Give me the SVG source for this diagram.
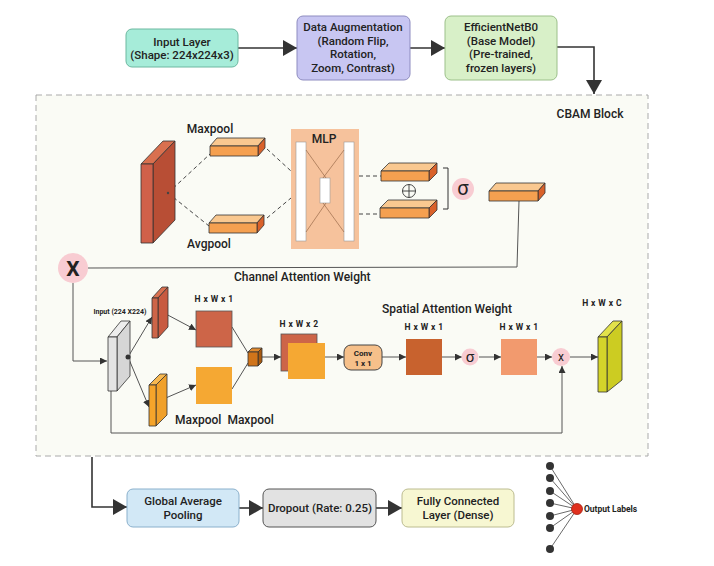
<svg xmlns="http://www.w3.org/2000/svg" width="714" height="566" viewBox="0 0 714 566">
<defs>
<style>
text{font-family:Roboto,"Liberation Sans",sans-serif;fill:#222;}
.t{font-size:11.5px;font-weight:500;text-anchor:middle;}
.lbl{font-size:12px;font-weight:500;}
.dim{font-size:8.5px;font-weight:700;text-anchor:middle;letter-spacing:0.4px;}
.con{fill:none;stroke:#333;stroke-width:1.6;}
.thin{fill:none;stroke:#555;stroke-width:1;}
.dash{fill:none;stroke:#444;stroke-width:1;stroke-dasharray:4,3;}
.edge{stroke:#333;stroke-width:0.8;stroke-linejoin:round;}
</style>
<marker id="big" markerUnits="userSpaceOnUse" markerWidth="14" markerHeight="16" refX="14" refY="8" orient="auto"><path d="M0,0 L14,8 L0,16 z" fill="#333"/></marker>
<marker id="sm" markerUnits="userSpaceOnUse" markerWidth="7" markerHeight="7" refX="7" refY="3.5" orient="auto"><path d="M0,0 L7,3.5 L0,7 z" fill="#333"/></marker>
</defs>
<rect width="714" height="566" fill="#ffffff"/>

<g id="cbam-block">
<rect x="36" y="95" width="612" height="361" fill="#fafbf5" stroke="#aaa" stroke-dasharray="6,4"/>
<text x="590" y="118" class="lbl" text-anchor="middle">CBAM Block</text>
</g>

<g id="connectors">
<path class="con" d="M238,48 H297" marker-end="url(#big)"/>
<path class="con" d="M410,48 H445" marker-end="url(#big)"/>
<path class="con" d="M557,47 H594 V94" marker-end="url(#big)"/>
<path class="con" d="M92,457 V507 H127" marker-end="url(#big)"/>
<path class="con" d="M239,508 H263" marker-end="url(#big)"/>
<path class="con" d="M376,508 H402" marker-end="url(#big)"/>
<path class="dash" d="M168,193 L210,154"/>
<path class="dash" d="M168,193 L209,226"/>
<path class="dash" d="M267,149 L291,171"/>
<path class="dash" d="M267,218 L291,198"/>
<path class="dash" d="M359,176 H381"/>
<path class="dash" d="M359,214 H380"/>
<path class="thin" d="M519,201 L517,267 L88,268"/>
<path class="thin" d="M73,283 V361 H107" marker-end="url(#sm)"/>
<path class="thin" d="M128,357 L152,317" marker-end="url(#sm)"/>
<path class="thin" d="M128,357 L149,407" marker-end="url(#sm)"/>
<path class="thin" d="M164,313 L196,330" marker-end="url(#sm)"/>
<path class="thin" d="M161,400 L196,385" marker-end="url(#sm)"/>
<path class="thin" d="M232,327 L248,353"/>
<path class="thin" d="M232,389 L248,363"/>
<path class="thin" d="M262,357 H281" marker-end="url(#sm)"/>
<path class="thin" d="M325,357 H344" marker-end="url(#sm)"/>
<path class="thin" d="M382,357 H406" marker-end="url(#sm)"/>
<path class="thin" d="M442,357 H462" marker-end="url(#sm)"/>
<path class="thin" d="M479,357 H501" marker-end="url(#sm)"/>
<path class="thin" d="M537,357 H552" marker-end="url(#sm)"/>
<path class="thin" d="M570,357 H598" marker-end="url(#sm)"/>
<path class="thin" d="M111,391 V433 H562 V366" marker-end="url(#sm)"/>
<g stroke="#444" stroke-width="0.8">
<line x1="550" y1="466" x2="577" y2="509"/><line x1="550" y1="478" x2="577" y2="509"/>
<line x1="550" y1="491" x2="577" y2="509"/><line x1="550" y1="503" x2="577" y2="509"/>
<line x1="550" y1="516" x2="577" y2="509"/><line x1="550" y1="528" x2="577" y2="509"/>
<line x1="550" y1="549" x2="577" y2="509"/>
</g>
</g>

<g id="input-layer">
<rect x="126" y="29" width="112" height="38" rx="6" fill="#a6ecd9" stroke="#6cb8a0"/>
<text class="t" x="182" y="46">Input Layer</text>
<text class="t" x="182" y="59">(Shape: 224x224x3)</text>
</g>
<g id="data-augmentation">
<rect x="297" y="16" width="113" height="64" rx="6" fill="#c8c6f2" stroke="#8e8cc0"/>
<text class="t" x="353" y="31">Data Augmentation</text>
<text class="t" x="353" y="45">(Random Flip,</text>
<text class="t" x="353" y="58">Rotation,</text>
<text class="t" x="353" y="72">Zoom, Contrast)</text>
</g>
<g id="efficientnet">
<rect x="445" y="16" width="112" height="64" rx="6" fill="#d8f0c8" stroke="#9cc08a"/>
<text class="t" x="501" y="31">EfficientNetB0</text>
<text class="t" x="501" y="45">(Base Model)</text>
<text class="t" x="501" y="58">(Pre-trained,</text>
<text class="t" x="501" y="72">frozen layers)</text>
</g>

<g id="feature-map">
<polygon class="edge" points="141,164 153,164 175,141 163,141" fill="#d9704f"/>
<polygon class="edge" points="153,164 175,141 175,220 153,243" fill="#b84e35"/>
<rect class="edge" x="141" y="164" width="12" height="79" fill="#d0604a"/>
<circle cx="168" cy="193" r="1.2" fill="#444"/>
</g>
<g id="maxpool-bar">
<polygon class="edge" points="210,146 258,146 265,138 217,138" fill="#f9c890"/>
<polygon class="edge" points="258,146 265,138 265,148 258,156" fill="#d9612a"/>
<rect class="edge" x="210" y="146" width="48" height="10" fill="#f5a050"/>
<text class="lbl" x="210" y="133" text-anchor="middle">Maxpool</text>
</g>
<g id="avgpool-bar">
<polygon class="edge" points="209,223 257,223 264,215 216,215" fill="#f9c890"/>
<polygon class="edge" points="257,223 264,215 264,225 257,233" fill="#d9612a"/>
<rect class="edge" x="209" y="223" width="48" height="10" fill="#f5a050"/>
<text class="lbl" x="209" y="248" text-anchor="middle">Avgpool</text>
</g>
<g id="mlp">
<rect x="291" y="129" width="68" height="120" fill="#f6c29c"/>
<text class="lbl" x="324" y="143" text-anchor="middle">MLP</text>
<rect x="296" y="142" width="10" height="99" fill="#fff" stroke="#999" stroke-width="0.6"/>
<rect x="344" y="142" width="10" height="99" fill="#fff" stroke="#999" stroke-width="0.6"/>
<rect x="320" y="178" width="10" height="25" fill="#fff" stroke="#999" stroke-width="0.6"/>
<g stroke="#8a5a3a" stroke-width="0.6">
<line x1="306" y1="150" x2="326" y2="178"/><line x1="344" y1="150" x2="323" y2="178"/>
<line x1="306" y1="232" x2="326" y2="203"/><line x1="344" y1="232" x2="323" y2="203"/>
</g>
</g>
<g id="mlp-out-top">
<polygon class="edge" points="381,171 429,171 437,163 389,163" fill="#f9c890"/>
<polygon class="edge" points="429,171 437,163 437,173 429,181" fill="#d9612a"/>
<rect class="edge" x="381" y="171" width="48" height="10" fill="#f5a050"/>
</g>
<g id="mlp-out-bottom">
<polygon class="edge" points="380,208 429,208 437,200 388,200" fill="#f9c890"/>
<polygon class="edge" points="429,208 437,200 437,210 429,218" fill="#d9612a"/>
<rect class="edge" x="380" y="208" width="49" height="10" fill="#f5a050"/>
</g>
<g id="sum">
<circle cx="409" cy="191" r="6.5" fill="none" stroke="#333" stroke-width="0.9"/>
<line x1="402.5" y1="191" x2="415.5" y2="191" stroke="#333" stroke-width="0.9"/>
<line x1="409" y1="184.5" x2="409" y2="197.5" stroke="#333" stroke-width="0.9"/>
<path d="M443,168 H448 V209 H443" fill="none" stroke="#333" stroke-width="1"/>
</g>
<g id="sigmoid-channel">
<circle cx="463" cy="189" r="11" fill="#f8ccd2"/>
<text x="463" y="195" font-size="20" text-anchor="middle">σ</text>
</g>
<g id="channel-weight">
<polygon class="edge" points="489,191 538,191 545,183 496,183" fill="#f9c890"/>
<polygon class="edge" points="538,191 545,183 545,193 538,201" fill="#d9612a"/>
<rect class="edge" x="489" y="191" width="49" height="10" fill="#f5a050"/>
<text class="lbl" x="234" y="281">Channel Attention Weight</text>
</g>
<g id="multiply-channel">
<circle cx="73" cy="268" r="15" fill="#f8ccd2"/>
<text x="73" y="276" font-size="21" font-weight="700" text-anchor="middle" fill="#111">X</text>
</g>

<g id="input-block">
<polygon class="edge" points="108,337 117,337 130,321 121,321" fill="#ededed"/>
<polygon class="edge" points="117,337 130,321 130,376 117,391" fill="#d6d6d6"/>
<rect class="edge" x="108" y="337" width="9" height="54" fill="#e4e4e4"/>
<circle cx="128" cy="357" r="2.5" fill="#333"/>
<text x="120" y="314" font-size="7" font-weight="700" text-anchor="middle">Input (224 X224)</text>
</g>
<g id="max-branch">
<polygon class="edge" points="152,298 158,298 168,287 162,287" fill="#d9704f"/>
<polygon class="edge" points="158,298 168,287 168,327 158,338" fill="#c85a40"/>
<rect class="edge" x="152" y="298" width="6" height="40" fill="#cd6548"/>
</g>
<g id="avg-branch">
<polygon class="edge" points="149,385 156,385 167,374 160,374" fill="#f7b850"/>
<polygon class="edge" points="156,385 167,374 167,415 156,426" fill="#f0a02a"/>
<rect class="edge" x="149" y="385" width="7" height="41" fill="#f5a42a"/>
</g>
<g id="map-max">
<rect x="196" y="311" width="36" height="36" fill="#cd6548" stroke="#555" stroke-width="0.8"/>
<text class="dim" x="214" y="302">H x W x 1</text>
</g>
<g id="map-avg">
<rect x="196" y="367" width="36" height="37" fill="#f5a833"/>
<text class="lbl" x="175" y="424">Maxpool&#160; Maxpool</text>
</g>
<g id="concat">
<polygon class="edge" points="248,352 258,352 262,348 252,348" fill="#e08a30"/>
<polygon class="edge" points="258,352 262,348 262,362 258,366" fill="#a85a10"/>
<rect class="edge" x="248" y="352" width="10" height="14" fill="#d0741a"/>
</g>
<g id="map-2ch">
<rect x="281" y="334" width="36" height="37" fill="#cd6548" stroke="#555" stroke-width="0.8"/>
<rect x="288" y="343" width="37" height="36" fill="#f5a833"/>
<text class="dim" x="299" y="327">H x W x 2</text>
</g>
<g id="conv">
<rect x="344" y="345" width="38" height="25" rx="7" fill="#f6c08a" stroke="#444"/>
<text x="363" y="356" font-size="8" font-weight="700" text-anchor="middle">Conv</text>
<text x="363" y="366" font-size="8" font-weight="700" text-anchor="middle">1 x 1</text>
<text class="lbl" x="447" y="313" text-anchor="middle">Spatial Attention Weight</text>
</g>
<g id="conv-out">
<rect x="406" y="339" width="36" height="36" fill="#c8622e"/>
<text class="dim" x="424" y="330">H x W x 1</text>
</g>
<g id="sigmoid-spatial">
<circle cx="470" cy="357" r="8.5" fill="#f8ccd2"/>
<text x="470" y="362" font-size="15" text-anchor="middle">σ</text>
</g>
<g id="spatial-weight">
<rect x="501" y="339" width="36" height="36" fill="#f29a6e"/>
<text class="dim" x="519" y="330">H x W x 1</text>
</g>
<g id="multiply-spatial">
<circle cx="561" cy="357" r="9" fill="#f8ccd2"/>
<text x="561" y="361" font-size="12" text-anchor="middle">x</text>
</g>
<g id="output-map">
<polygon class="edge" points="598,337 607,337 622,321 613,321" fill="#e2e24a"/>
<polygon class="edge" points="607,337 622,321 622,380 607,392" fill="#cccc22"/>
<rect class="edge" x="598" y="337" width="9" height="55" fill="#d4d42a"/>
<text class="dim" x="602" y="306">H x W x C</text>
</g>

<g id="global-average-pooling">
<rect x="127" y="489" width="112" height="38" rx="6" fill="#d2e8f6" stroke="#8ab0cc"/>
<text class="t" x="183" y="505">Global Average</text>
<text class="t" x="183" y="519">Pooling</text>
</g>
<g id="dropout">
<rect x="263" y="489" width="113" height="38" rx="6" fill="#e2e2e2" stroke="#555"/>
<text class="t" x="320" y="512">Dropout (Rate: 0.25)</text>
</g>
<g id="dense">
<rect x="402" y="489" width="112" height="38" rx="6" fill="#f7f7d2" stroke="#bcbc90"/>
<text class="t" x="458" y="505">Fully Connected</text>
<text class="t" x="458" y="519">Layer (Dense)</text>
</g>
<g id="output-labels">
<g fill="#333">
<circle cx="550" cy="466" r="4"/><circle cx="550" cy="478" r="4"/><circle cx="550" cy="491" r="4"/>
<circle cx="550" cy="503" r="4"/><circle cx="550" cy="516" r="4"/><circle cx="550" cy="528" r="4"/>
<circle cx="550" cy="549" r="4"/>
</g>
<circle cx="577" cy="509" r="5.5" fill="#e0301e" stroke="#a02010" stroke-width="0.8"/>
<text x="584" y="512" font-size="8.5" font-weight="700">Output Labels</text>
</g>
</svg>
